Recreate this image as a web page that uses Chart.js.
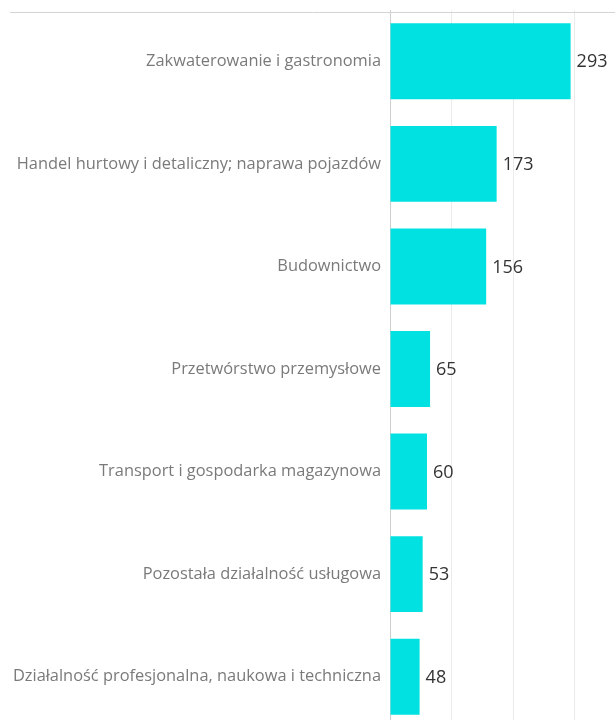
<!DOCTYPE html>
<html>
<head>
<meta charset="utf-8">
<script src="https://cdn.jsdelivr.net/npm/chart.js@4"></script>
<style>
    html, body { margin: 0; padding: 0; background: #fff; overflow: hidden; }
    #wrap { width: 615px; height: 728px; }
</style>
</head>
<body>
<div id="wrap"><canvas id="sectorChart"></canvas></div>
<script>
const categories = [
    'Zakwaterowanie i gastronomia',
    'Handel hurtowy i detaliczny; naprawa pojazdów',
    'Budownictwo',
    'Przetwórstwo przemysłowe',
    'Transport i gospodarka magazynowa',
    'Pozostała działalność usługowa',
    'Działalność profesjonalna, naukowa i techniczna'
];
const counts = [293, 173, 156, 65, 60, 53, 48];
const gridTicks = [0, 100, 200, 300];

// value labels to the right of each bar
const valueLabels = {
    id: 'valueLabels',
    afterDatasetsDraw(chart) {
        const ctx = chart.ctx;
        const meta = chart.getDatasetMeta(0);
        ctx.save();
        ctx.font = '18px "Open Sans", sans-serif';
        ctx.fillStyle = '#333';
        ctx.textAlign = 'left';
        ctx.textBaseline = 'middle';
        meta.data.forEach((bar, i) => {
            ctx.fillText(counts[i], bar.x + 6, bar.y + 1);
        });
        ctx.restore();
    }
};

// header divider across the whole width
const headerLine = {
    id: 'headerLine',
    afterDraw(chart) {
        const ctx = chart.ctx;
        const y = chart.chartArea.top + 2;
        ctx.save();
        ctx.strokeStyle = '#d4d4d4';
        ctx.lineWidth = 1;
        ctx.beginPath();
        ctx.moveTo(10, y + 0.5);
        ctx.lineTo(chart.width, y + 0.5);
        ctx.stroke();
        ctx.restore();
    }
};

new Chart(document.getElementById('sectorChart'), {
    type: 'bar',
    data: {
        labels: categories,
        datasets: [{
            data: counts,
            backgroundColor: '#02E1E1',
            borderWidth: 0,
            categoryPercentage: 1,
            barPercentage: 0.74
        }]
    },
    options: {
        indexAxis: 'y',
        responsive: true,
        maintainAspectRatio: false,
        animation: false,
        layout: { padding: { top: 10, right: 0, bottom: 0, left: 0 } },
        plugins: {
            legend: { display: false },
            tooltip: { enabled: false }
        },
        scales: {
            x: {
                min: 0,
                max: 365,
                afterBuildTicks(scale) {
                    scale.ticks = gridTicks.map(v => ({ value: v }));
                },
                afterFit(scale) {
                    scale.height = 0;
                    scale.paddingLeft = 0;
                    scale.paddingRight = 0;
                },
                ticks: { display: false },
                grid: {
                    color: ctx => ctx.tick && ctx.tick.value === 0 ? 'rgba(0,0,0,0)' : '#ebebeb',
                    drawTicks: false
                },
                border: { display: false }
            },
            y: {
                afterFit(scale) {
                    scale.width = 390;
                    scale.paddingTop = 0;
                    scale.paddingBottom = 0;
                },
                ticks: {
                    color: '#7a7a7a',
                    padding: 9,
                    font: { family: '"Open Sans", sans-serif', size: 16.4 }
                },
                grid: { display: false, drawTicks: false },
                border: { display: true, color: '#cfcfcf' }
            }
        }
    },
    plugins: [valueLabels, headerLine]
});
</script>
</body>
</html>
